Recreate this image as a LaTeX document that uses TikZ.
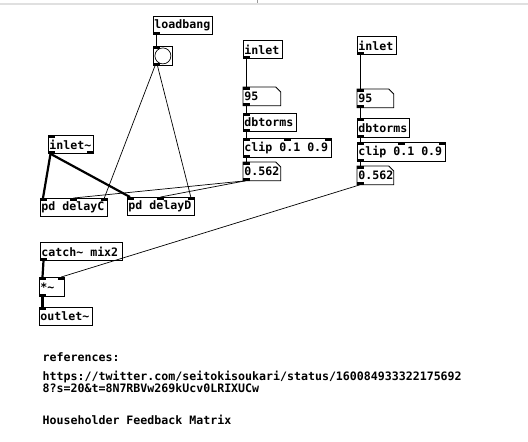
\documentclass[tikz,border=0pt]{standalone}
\usepackage{fontspec}
\newfontfamily\pdfont{DejaVu Sans Mono}[BoldFont={DejaVu Sans Mono Bold}]
\newcommand\pdtxt{\pdfont\bfseries\fontsize{11.6}{10}\selectfont}
\newcommand\lbox[2]{\makebox[#1pt][l]{#2}}
\begin{document}
\begin{tikzpicture}[x=1pt,y=-1pt,
  obj/.style={draw, line width=0.8pt, anchor=north west, inner xsep=1pt, inner ysep=0pt,
              font=\pdtxt, minimum height=18pt},
  numbox/.style={obj, draw=none},
  ctl/.style={line width=0.7pt},
  sig/.style={line width=2.2pt},
  iomark/.style={fill=black},
  comment/.style={anchor=base west, inner sep=0pt, font=\pdtxt}]
\useasboundingbox (0,0) rectangle (528,442);
\fill[white] (0,0) rectangle (528,442);
\fill[black!12] (0,3) rectangle (528,5);
\draw[black!40, line width=0.6pt] (257,0) -- (257,3);

% helper macros
\newcommand\inTL[1]{\fill[iomark] (#1.north west) rectangle ++(7,3);}
\newcommand\inTR[1]{\fill[iomark] ([xshift=-7pt]#1.north east) rectangle ++(7,3);}
\newcommand\inTM[2]{\fill[iomark] ([xshift=#2pt]#1.north west) rectangle ++(7,3);}
\newcommand\outBL[1]{\fill[iomark] (#1.south west) rectangle ++(7,-3);}
\newcommand\outBR[1]{\fill[iomark] ([xshift=-7pt]#1.south east) rectangle ++(7,-3);}
\newcommand\numshape[1]{\draw[line width=0.8pt] (#1.north west) -- ([xshift=-5pt]#1.north east) -- ([yshift=-5pt]#1.north east) -- (#1.south east) -- (#1.south west) -- cycle;}

% objects
\node[obj] (lb) at (153,16) {\lbox{57}{loadbang}};
\node[draw, line width=0.8pt, anchor=north west, minimum width=19pt, minimum height=19pt, inner sep=0pt] (bang) at (153,46) {};
\draw[line width=0.7pt] (bang.center) circle (8pt);

\node[obj] (inL) at (243,40) {\lbox{37}{inlet}};
\node[numbox] (n95L) at (243,87) {\lbox{35}{95}};
\node[obj] (dbL) at (243,113) {\lbox{51}{dbtorms}};
\node[obj, minimum height=19pt] (clL) at (243,138) {\lbox{86}{clip 0.1 0.9}};
\node[numbox] (n562L) at (243,162) {\lbox{35}{0.562}};
\numshape{n95L}
\numshape{n562L}

\node[obj] (isig) at (48,135) {\lbox{43}{inlet\textasciitilde}};
\node[obj] (dC) at (40,198) {\lbox{65}{pd delayC}};
\node[obj] (dD) at (127,197) {\lbox{65}{pd delayD}};

\node[obj] (inR) at (357,36) {\lbox{37}{inlet}};
\node[numbox] (n95R) at (357,89) {\lbox{34}{95}};
\node[obj, minimum height=19pt] (dbR) at (357,118) {\lbox{50}{dbtorms}};
\node[obj, minimum height=19pt] (clR) at (357,142) {\lbox{86}{clip 0.1 0.9}};
\node[numbox] (n562R) at (357,166) {\lbox{34}{0.562}};
\numshape{n95R}
\numshape{n562R}

\node[obj] (catch) at (40,242) {\lbox{80}{catch\textasciitilde{} mix2}};
\node[obj, minimum height=19pt] (mul) at (39,277) {\lbox{23}{*\textasciitilde}};
\node[obj] (osig) at (39,307) {\lbox{51}{outlet\textasciitilde}};

% inlets / outlets
\outBL{lb}
\inTL{bang} \outBL{bang}
\outBL{inL}
\inTL{n95L} \outBL{n95L}
\inTL{dbL} \outBL{dbL}
\inTL{clL} \inTM{clL}{40.5} \inTR{clL} \outBL{clL}
\inTL{n562L} \outBL{n562L}
\inTL{isig} \outBL{isig} \outBR{isig}
\inTL{dC} \inTM{dC}{30} \inTR{dC}
\inTL{dD} \inTM{dD}{30} \inTR{dD}
\outBL{inR}
\inTL{n95R} \outBL{n95R}
\inTL{dbR} \outBL{dbR}
\inTL{clR} \inTM{clR}{40.5} \inTR{clR} \outBL{clR}
\inTL{n562R} \outBL{n562R}
\outBL{catch}
\inTL{mul} \inTR{mul} \outBL{mul}
\inTL{osig}

% connections
\draw[ctl] ([xshift=3.5pt]lb.south west) -- ([xshift=3.5pt]bang.north west);
\draw[ctl] ([xshift=2pt]bang.south west) -- ([xshift=-3.5pt]dC.north east);
\draw[ctl] ([xshift=4.5pt]bang.south west) -- ([xshift=-4pt]dD.north east);
\draw[sig] ([xshift=2.5pt]isig.south west) -- ([xshift=3pt]dC.north west);
\draw[sig] ([xshift=2.5pt]isig.south west) -- ([xshift=3pt]dD.north west);
\draw[ctl] ([xshift=2.5pt]n562L.south west) -- ([xshift=33.5pt]dC.north west);
\draw[ctl] ([xshift=2.5pt]n562L.south west) -- ([xshift=33.5pt]dD.north west);

\draw[ctl] ([xshift=3pt]inL.south west) -- ([xshift=3pt]n95L.north west);
\draw[ctl] ([xshift=3pt]n95L.south west) -- ([xshift=3pt]dbL.north west);
\draw[ctl] ([xshift=3pt]dbL.south west) -- ([xshift=3pt]clL.north west);
\draw[ctl] ([xshift=3pt]clL.south west) -- ([xshift=3pt]n562L.north west);

\draw[ctl] ([xshift=3pt]inR.south west) -- ([xshift=3pt]n95R.north west);
\draw[ctl] ([xshift=3pt]n95R.south west) -- ([xshift=3pt]dbR.north west);
\draw[ctl] ([xshift=3pt]dbR.south west) -- ([xshift=3pt]clR.north west);
\draw[ctl] ([xshift=3pt]clR.south west) -- ([xshift=3pt]n562R.north west);

\draw[ctl] ([xshift=3pt]n562R.south west) -- ([xshift=-3.5pt]mul.north east);
\draw[sig] ([xshift=3.5pt]catch.south west) -- ([xshift=3.5pt]mul.north west);
\draw[sig] ([xshift=3.5pt]mul.south west) -- ([xshift=3.5pt]osig.north west);

% comments
\node[comment] (c1) at (42.5,361) {references:};
\node[comment] (c2a) at (42.5,380.5) {https://twitter.com/seitokisoukari/status/160084933322175692};
\node[comment] (c2b) at (42.5,392.5) {8?s=20\&t=8N7RBVw269kUcv0LRIXUCw};
\node[comment] (c3) at (42.5,424) {Householder Feedback Matrix};
\end{tikzpicture}
\end{document}
